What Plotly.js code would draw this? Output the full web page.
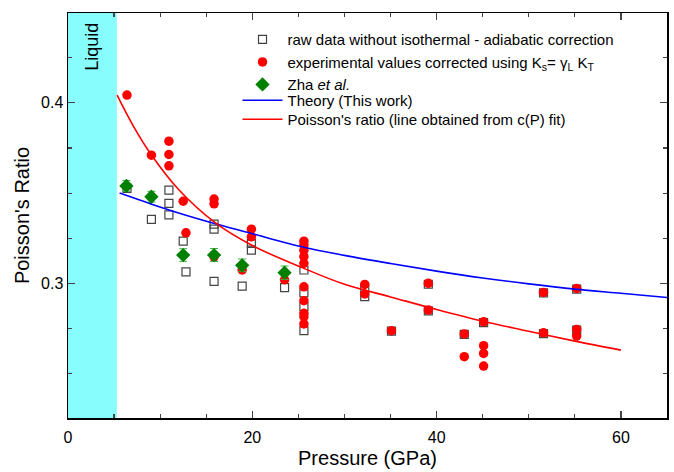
<!DOCTYPE html>
<html>
<head>
<meta charset="utf-8">
<script src="https://cdn.plot.ly/plotly-3.0.1.min.js"></script>
<style>html,body{margin:0;padding:0;background:#fff;}#chart{width:674px;height:472px;}</style>
</head>
<body>
<div id="chart"></div>
<script>
// Raw data without isothermal-adiabatic correction (open squares)
const rawP = [6.4, 9.05, 10.95, 10.95, 10.95, 12.5, 12.8, 15.85, 15.85, 15.85, 18.9, 19.9, 19.9, 23.5, 25.6, 25.6, 25.6, 25.6, 32.2, 32.2, 35.1, 39.1, 39.1, 43.0, 45.1, 51.6, 51.6, 55.2, 55.2];
const rawNu = [0.3526, 0.3354, 0.3517, 0.3443, 0.3380, 0.3234, 0.3064, 0.3328, 0.3301, 0.3011, 0.2985, 0.3222, 0.3184, 0.2976, 0.3074, 0.2948, 0.2871, 0.2738, 0.2972, 0.2926, 0.2735, 0.2995, 0.2848, 0.2717, 0.2783, 0.2947, 0.2722, 0.2968, 0.2741];

// Corrected experimental values (red circles)
const corrP = [6.4, 9.05, 10.95, 10.95, 10.95, 12.5, 12.8, 15.85, 15.85, 15.85, 18.9, 19.9, 19.9, 23.5,
  25.6, 25.6, 25.6, 25.6, 25.6, 25.6, 25.6, 25.6, 25.6, 25.6,
  32.2, 32.2, 35.1, 39.1, 39.1, 43.0, 43.0, 45.1, 45.1, 45.1, 45.1, 51.6, 51.6, 55.2, 55.2, 55.2];
const corrNu = [0.4043, 0.3710, 0.3788, 0.3714, 0.3651, 0.3455, 0.3280, 0.3467, 0.3441, 0.3147, 0.3074, 0.3300, 0.3258, 0.3020,
  0.3234, 0.3212, 0.3184, 0.3148, 0.3111, 0.2981, 0.2904, 0.2834, 0.2815, 0.2775,
  0.2994, 0.2941, 0.2738, 0.3000, 0.2852, 0.2720, 0.2594, 0.2787, 0.2655, 0.2612, 0.2542, 0.2950, 0.2726, 0.2972, 0.2745, 0.2708];

// Zha et al.
const zhaP = [6.34, 9.05, 12.5, 15.85, 18.9, 23.5];
const zhaNu = [0.3540, 0.3480, 0.3157, 0.3157, 0.3100, 0.3059];
const zhaErr = [0.0030, 0.0030, 0.0035, 0.0036, 0.0035, 0.0037];

// Theory (This work)
const theoryP = [5.6, 9, 12, 16, 20, 25.6, 30, 35, 40, 45, 50, 55, 60, 65];
const theoryNu = [0.3500, 0.3440, 0.3390, 0.3330, 0.3275, 0.3200, 0.3155, 0.3110, 0.3068, 0.3030, 0.2997, 0.2968, 0.2945, 0.2922];

// Poisson's ratio from c(P) fit
const fitP = [5.33, 7, 9, 12, 16, 20, 25.6, 30, 35, 40, 45, 50, 55, 60];
const fitNu = [0.4043, 0.3880, 0.3715, 0.3520, 0.3335, 0.3210, 0.3083, 0.2995, 0.2925, 0.2855, 0.2790, 0.2735, 0.2680, 0.2630];

const liquidEnd = 5.3;

const font = "Arial, 'Liberation Sans', sans-serif";

const traces = [
  {x: rawP, y: rawNu, type: 'scatter', mode: 'markers', legend: 'legend',
   name: 'raw data without isothermal - adiabatic correction',
   marker: {symbol: 'square-open', size: 8, color: '#444', line: {width: 1.2, color: '#444'}}},
  {x: corrP, y: corrNu, type: 'scatter', mode: 'markers', legend: 'legend',
   name: 'experimental values corrected using K<sub>s</sub>= γ<sub>L</sub> K<sub>T</sub>',
   marker: {symbol: 'circle', size: 9.5, color: '#ff0000'}},
  {x: zhaP, y: zhaNu, type: 'scatter', mode: 'markers', legend: 'legend',
   name: 'Zha <i>et al.</i>',
   error_y: {type: 'data', array: zhaErr, visible: true, color: '#3cb043', thickness: 1, width: 4},
   marker: {symbol: 'diamond', size: 11, color: '#008000'}},
  {x: theoryP, y: theoryNu, type: 'scatter', mode: 'lines', legend: 'legend2',
   name: 'Theory (This work)', line: {color: '#0000ff', width: 1.6, shape: 'spline'}},
  {x: fitP, y: fitNu, type: 'scatter', mode: 'lines', legend: 'legend3',
   name: "Poisson's ratio (line obtained from c(P) fit)", line: {color: '#ff0000', width: 1.6, shape: 'spline'}}
];

const legendBase = {xanchor: 'left', yanchor: 'top', bgcolor: 'rgba(0,0,0,0)',
  font: {family: font, size: 15, color: '#000'}, itemwidth: 40, tracegroupgap: 0};

const layout = {
  width: 674, height: 472,
  margin: {l: 68, r: 7, t: 13, b: 54},
  paper_bgcolor: '#fff', plot_bgcolor: '#fff',
  font: {family: font, color: '#000', size: 16},
  showlegend: true,
  legend: Object.assign({x: 0.283, y: 0.975}, legendBase),
  legend2: Object.assign({x: 0.283, y: 0.8247}, legendBase),
  legend3: Object.assign({x: 0.283, y: 0.7778}, legendBase),
  xaxis: {
    range: [0, 65], tick0: 0, dtick: 20, ticks: 'inside', ticklen: 7, tickwidth: 1.2,
    showline: true, linecolor: '#000', linewidth: 1.5, mirror: 'ticks', showgrid: false, zeroline: false,
    minor: {dtick: 5, ticks: 'inside', ticklen: 4, tickwidth: 1.2, showgrid: false},
    ticklabelstandoff: 4,
    tickfont: {size: 16}, title: {text: 'Pressure (GPa)', font: {size: 20}, standoff: 6}
  },
  yaxis: {
    range: [0.2254, 0.4498], tick0: 0, dtick: 0.1, ticks: 'inside', ticklen: 7, tickwidth: 1.2,
    showline: true, linecolor: '#000', linewidth: 1.5, mirror: 'ticks', showgrid: false, zeroline: false,
    minor: {dtick: 0.025, ticks: 'inside', ticklen: 4, tickwidth: 1.2, showgrid: false},
    tickformat: '.1f', tickfont: {size: 16}, title: {text: "Poisson's Ratio", font: {size: 20}, standoff: 6}
  },
  shapes: [
    {type: 'rect', xref: 'x', yref: 'paper', x0: 0, x1: liquidEnd, y0: 0, y1: 1,
     fillcolor: '#88fdfd', line: {width: 0}, layer: 'below'}
  ],
  annotations: [
    {text: 'Liquid', xref: 'x', yref: 'paper', x: liquidEnd / 2, y: 0.982, yanchor: 'top',
     showarrow: false, textangle: -90, font: {family: font, size: 18, color: '#000'}}
  ]
};

Plotly.newPlot('chart', traces, layout, {displayModeBar: false, staticPlot: true});
</script>
</body>
</html>
